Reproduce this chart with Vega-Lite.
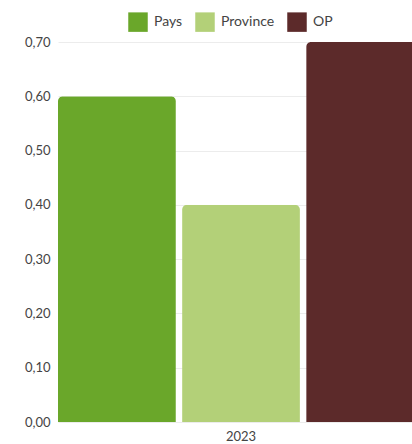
{
  "$schema": "https://vega.github.io/schema/vega-lite/v6.json",
  "autosize": {"type": "none"},
  "padding": {"left": 58, "top": 42, "right": 0, "bottom": 22},
  "width": 366,
  "height": 380,
  "background": "white",
  "config": {
    "locale": {"number": {"decimal": ",", "thousands": ".", "grouping": [3], "currency": ["", " €"]}},
    "font": "Lato",
    "view": {"stroke": null}
  },
  "data": {"values": [
    {"annee": "2023", "serie": "Pays", "valeur": 0.60},
    {"annee": "2023", "serie": "Province", "valeur": 0.40},
    {"annee": "2023", "serie": "OP", "valeur": 0.70}
  ]},
  "mark": {"type": "bar", "cornerRadiusTopLeft": 5, "cornerRadiusTopRight": 5},
  "encoding": {
    "x": {"field": "annee", "type": "nominal", "title": null,
      "scale": {"paddingInner": 0, "paddingOuter": 0},
      "axis": {"labelAngle": 0, "domain": false, "ticks": false, "labelFontSize": 13, "labelColor": "#444", "labelPadding": 8}},
    "xOffset": {"field": "serie", "type": "nominal", "sort": ["Pays", "Province", "OP"],
      "scale": {"paddingInner": 0.05, "paddingOuter": 0}},
    "y": {"field": "valeur", "type": "quantitative", "title": null,
      "scale": {"domain": [0, 0.7], "nice": false},
      "axis": {"values": [0, 0.1, 0.2, 0.3, 0.4, 0.5, 0.6, 0.7], "format": ".2f", "domain": false, "ticks": false,
        "labelFontSize": 13, "labelColor": "#444", "labelPadding": 8, "gridColor": "#ececec"}},
    "color": {"field": "serie", "type": "nominal", "sort": ["Pays", "Province", "OP"],
      "scale": {"domain": ["Pays", "Province", "OP"], "range": ["#6aa72a", "#b3d078", "#5c2a2a"]},
      "legend": {"title": null, "orient": "none", "legendX": 70, "legendY": -30, "direction": "horizontal",
        "symbolType": "square", "symbolSize": 380, "symbolStrokeWidth": 0, "symbolOpacity": 1,
        "labelFontSize": 14, "labelColor": "#444", "labelOffset": 6, "columnPadding": 12}}
  }
}
